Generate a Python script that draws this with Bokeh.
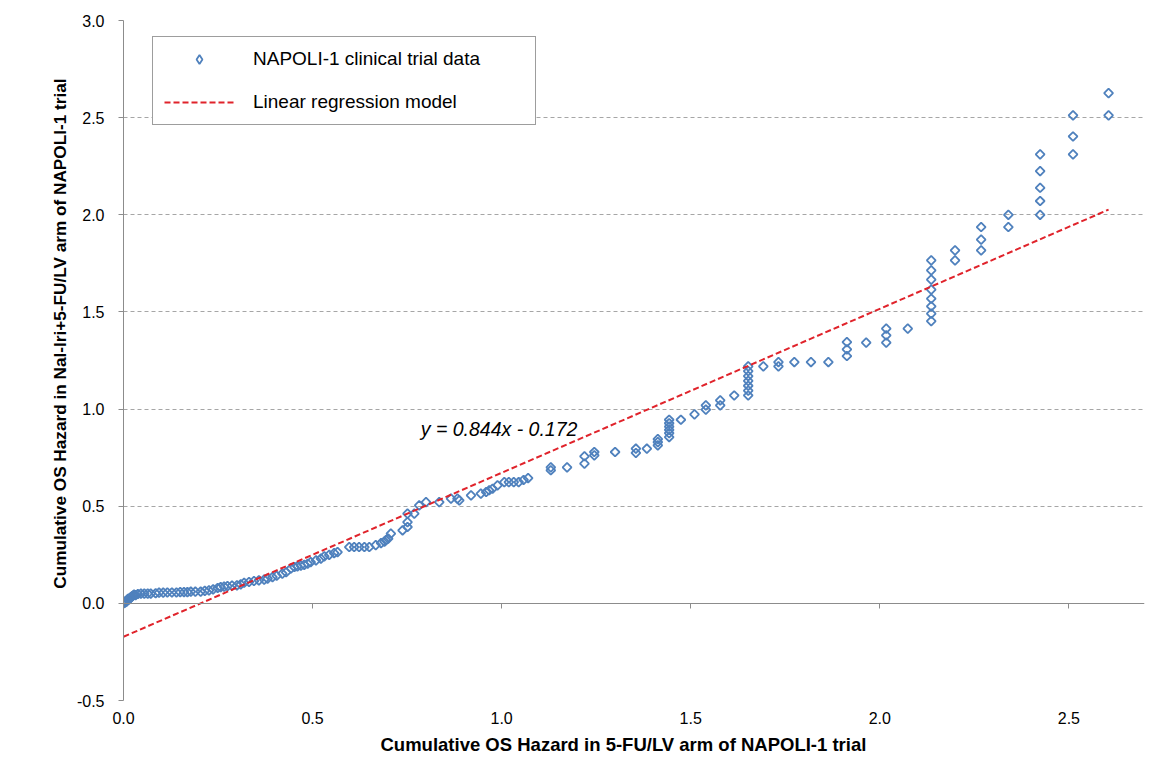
import numpy as np
from bokeh.plotting import figure
from bokeh.models import (FixedTicker, NumeralTickFormatter, LinearAxis, Legend, LegendItem,
                          Label, Title, CustomJSTickFormatter, Range1d)
from bokeh.embed import file_html
from bokeh.resources import INLINE

# Cumulative OS hazard, 5-FU/LV arm (x) vs Nal-Iri+5-FU/LV arm (y)
x_ctrl = [0.000, 0.002, 0.004, 0.006, 0.008, 0.010, 0.012, 0.015, 0.017, 0.020, 0.022, 0.025, 0.028, 0.032,
          0.038, 0.046, 0.055, 0.064, 0.072, 0.085, 0.094, 0.105, 0.116, 0.128, 0.140, 0.150, 0.160, 0.169,
          0.178, 0.190, 0.204, 0.215, 0.226, 0.237, 0.249, 0.257, 0.266, 0.275, 0.287, 0.300, 0.310, 0.319,
          0.332, 0.345, 0.358, 0.372, 0.381, 0.394, 0.405, 0.420, 0.430, 0.443, 0.452, 0.460, 0.469, 0.478,
          0.487, 0.495, 0.509, 0.522, 0.531, 0.544, 0.557, 0.566, 0.597, 0.610, 0.623, 0.637, 0.650, 0.667,
          0.681, 0.690, 0.694, 0.700, 0.707, 0.738, 0.751, 0.751, 0.751, 0.769, 0.782, 0.800, 0.835, 0.866,
          0.883, 0.888, 0.919, 0.945, 0.959, 0.967, 0.976, 0.989, 1.007, 1.019, 1.032, 1.045, 1.058, 1.070,
          1.130, 1.130, 1.173, 1.219, 1.219, 1.245, 1.245, 1.300, 1.355, 1.355, 1.384, 1.413, 1.413, 1.413,
          1.443, 1.443, 1.443, 1.443, 1.443, 1.443, 1.474, 1.510, 1.540, 1.540, 1.578, 1.578, 1.615,
          1.652, 1.652, 1.652, 1.652, 1.652, 1.652, 1.652, 1.692, 1.732, 1.732, 1.774, 1.818, 1.864,
          1.913, 1.913, 1.913, 1.964, 2.017, 2.017, 2.017, 2.074,
          2.136, 2.136, 2.136, 2.136, 2.136, 2.136, 2.136, 2.136, 2.199, 2.199, 2.268, 2.268, 2.268,
          2.340, 2.340, 2.424, 2.424, 2.424, 2.424, 2.424, 2.511, 2.511, 2.511, 2.605, 2.605]
y_trt = [0.000, 0.007, 0.003, 0.012, 0.009, 0.018, 0.023, 0.020, 0.028, 0.031, 0.036, 0.040, 0.045, 0.042,
         0.048, 0.050, 0.050, 0.050, 0.050, 0.052, 0.055, 0.055, 0.056, 0.056, 0.056, 0.058, 0.058, 0.058,
         0.060, 0.060, 0.060, 0.064, 0.067, 0.072, 0.079, 0.084, 0.086, 0.089, 0.091, 0.093, 0.098, 0.106,
         0.110, 0.115, 0.118, 0.122, 0.127, 0.135, 0.142, 0.153, 0.160, 0.180, 0.187, 0.190, 0.194, 0.198,
         0.204, 0.212, 0.221, 0.230, 0.242, 0.250, 0.259, 0.264, 0.290, 0.290, 0.290, 0.290, 0.290, 0.300,
         0.310, 0.318, 0.325, 0.333, 0.359, 0.376, 0.393, 0.418, 0.462, 0.462, 0.504, 0.521, 0.521, 0.539,
         0.539, 0.530, 0.556, 0.565, 0.573, 0.582, 0.590, 0.607, 0.624, 0.624, 0.624, 0.624, 0.635, 0.645,
         0.685, 0.700, 0.700, 0.719, 0.757, 0.762, 0.779, 0.779, 0.774, 0.796, 0.796, 0.813, 0.830, 0.845,
         0.856, 0.876, 0.893, 0.910, 0.927, 0.945, 0.945, 0.973, 0.997, 1.019, 1.019, 1.045, 1.070,
         1.070, 1.095, 1.120, 1.145, 1.170, 1.195, 1.220, 1.220, 1.220, 1.242, 1.242, 1.242, 1.242,
         1.273, 1.307, 1.345, 1.342, 1.342, 1.379, 1.414, 1.414,
         1.453, 1.491, 1.529, 1.568, 1.615, 1.666, 1.714, 1.765, 1.765, 1.817, 1.817, 1.872, 1.937,
         1.937, 2.000, 2.000, 2.071, 2.139, 2.225, 2.311, 2.311, 2.403, 2.512, 2.512, 2.626]

# Linear regression model
slope = 0.844
intercept = -0.172

x_ticks = [0.0, 0.5, 1.0, 1.5, 2.0, 2.5]
y_ticks = [-0.5, 0.0, 0.5, 1.0, 1.5, 2.0, 2.5, 3.0]

x_title = "Cumulative OS Hazard in 5-FU/LV arm of NAPOLI-1 trial"
y_title = "Cumulative OS Hazard in Nal-Iri+5-FU/LV arm of NAPOLI-1 trial"
series_names = ["NAPOLI-1 clinical trial data", "Linear regression model"]

FONT = "Liberation Sans"
AXIS_GRAY = "#8C8C8C"
BLUE = "#4F81BD"

p = figure(width=1170, height=771, x_range=Range1d(0, 2.7), y_range=Range1d(-0.5, 3.0),
           output_backend="svg", toolbar_location=None,
           min_border_left=123, min_border_right=26, min_border_top=20, min_border_bottom=71)
p.outline_line_color = None
p.background_fill_color = "white"
p.border_fill_color = "white"
p.styles = {"outline": "1px solid #B4B4B4", "outline-offset": "-3px"}

# grid
p.xgrid.visible = False
p.ygrid.ticker = FixedTicker(ticks=y_ticks)
p.ygrid.grid_line_color = "#A6A6A6"
p.ygrid.grid_line_dash = "4 3"
p.ygrid.grid_line_width = 1

# y axis
ya = p.yaxis[0]
ya.ticker = FixedTicker(ticks=y_ticks)
ya.formatter = NumeralTickFormatter(format="0.0")
ya.axis_line_color = AXIS_GRAY
ya.major_tick_line_color = AXIS_GRAY
ya.major_tick_out = 5
ya.major_tick_in = 0
ya.minor_tick_line_color = None
ya.major_label_text_font = FONT
ya.major_label_text_font_size = "16px"
ya.major_label_text_color = "#000000"
ya.major_label_standoff = 14

# bottom x axis (labels only)
xa = p.xaxis[0]
xa.ticker = FixedTicker(ticks=x_ticks)
xa.formatter = NumeralTickFormatter(format="0.0")
xa.axis_line_color = None
xa.major_tick_line_color = None
xa.minor_tick_line_color = None
xa.major_tick_out = 0
xa.major_tick_in = 0
xa.major_label_standoff = 11
xa.major_label_text_font = FONT
xa.major_label_text_font_size = "16px"
xa.major_label_text_color = "#000000"

# x title (left-anchored so it sits where the original does)
p.add_layout(Title(text=x_title, align="left", offset=257, text_font=FONT, text_font_size="18.5px",
                   text_font_style="bold", text_color="#000000", standoff=10), "below")

# horizontal axis line crossing at y = 0
zero_axis = LinearAxis(fixed_location=0, ticker=FixedTicker(ticks=x_ticks),
                       formatter=CustomJSTickFormatter(code="return ''"),
                       axis_line_color=AXIS_GRAY, major_tick_line_color=AXIS_GRAY,
                       major_tick_in=5, major_tick_out=0, minor_tick_line_color=None,
                       major_label_standoff=0, major_label_text_font_size="1px")
p.add_layout(zero_axis, "above")

# y title
p.add_layout(Title(text=y_title, align="right", offset=58, text_font=FONT, text_font_size="17.2px",
                   text_font_style="bold", text_color="#000000", standoff=8), "left")

# data
r_pts = p.scatter(x_ctrl, y_trt, marker="square", angle=np.pi / 4, size=6.3,
                  fill_color=None, line_color=BLUE, line_width=1.8)
# legend swatch (diamond, since legends do not rotate markers)
r_key = p.scatter(x_ctrl, y_trt, marker="diamond", size=10, fill_color=None,
                  line_color=BLUE, line_width=1.8, visible=False)

x_line = [0.0, max(x_ctrl)]
y_line = [slope * v + intercept for v in x_line]
r_line = p.line(x_line, y_line, line_color="#E0232B", line_width=2, line_dash="6 3")

legend = Legend(items=[LegendItem(label=series_names[0], renderers=[r_key]),
                       LegendItem(label=series_names[1], renderers=[r_line])],
                location=(29, 575), padding=11, spacing=21, glyph_width=70, glyph_height=22,
                label_height=22, label_width=271, label_standoff=19, margin=0,
                label_text_font=FONT, label_text_font_size="19px", label_text_color="#000000",
                border_line_color="#3C3C3C", border_line_width=1, background_fill_alpha=1.0)
p.add_layout(legend)

eq = f"y = {slope}x - {abs(intercept)}"
p.add_layout(Label(x=0.786, y=0.90, text=eq, text_font=FONT, text_font_size="19.5px",
                   text_font_style="italic", text_baseline="middle", text_color="#000000"))

open("out.html", "w").write(file_html(p, INLINE))
